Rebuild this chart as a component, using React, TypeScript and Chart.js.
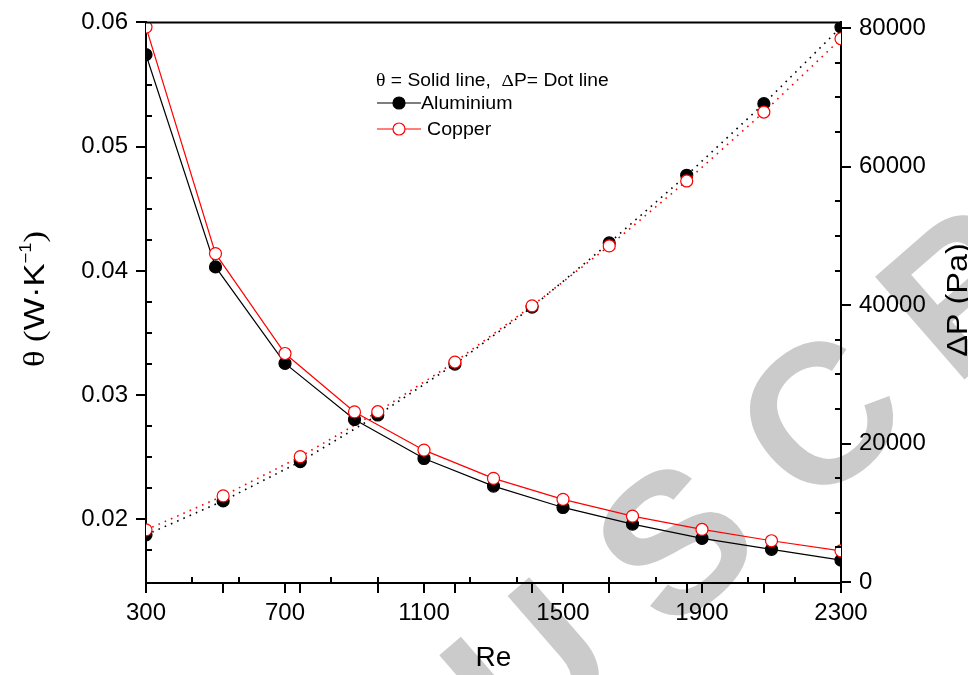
import React, { useEffect, useRef } from "react";
import { Chart, registerables } from "chart.js";

Chart.register(...registerables);

// ---- data ----
const RE_THETA = [300, 500, 700, 900, 1100, 1300, 1500, 1700, 1900, 2100, 2300];
const THETA_AL = [0.0574, 0.04032, 0.03255, 0.02804, 0.0249, 0.02268, 0.02096, 0.01962, 0.01847, 0.01759, 0.01672];
const THETA_CU = [0.05962, 0.04139, 0.03335, 0.02865, 0.02557, 0.0233, 0.02161, 0.02026, 0.01919, 0.01828, 0.01747];

const RE_DP = [300, 522, 744, 967, 1189, 1411, 1633, 1856, 2078, 2300];
const DP_AL = [6823, 11727, 17396, 24133, 31489, 39712, 48987, 58752, 69095, 80144];
const DP_CU = [7544, 12449, 18118, 24609, 31778, 39899, 48554, 57930, 67883, 78471];

const X_TICKS = [300, 700, 1100, 1500, 1900, 2300];
const THETA_TICKS = [0.02, 0.03, 0.04, 0.05, 0.06];
const DP_TICKS = [0, 20000, 40000, 60000, 80000];

const LEGEND_LABELS = ["Aluminium", "Copper"];
const WATERMARK = "MANUSCRIPT";

const SANS = '"Liberation Sans", Arial, Helvetica, sans-serif';
const SERIF = '"Liberation Serif", "Times New Roman", serif';

type Piece = { t: string; f: string; dy?: number };

// draws text pieces one after another; sx stretches the text horizontally
function drawPieces(ctx: CanvasRenderingContext2D, pieces: Piece[], x: number, y: number, center: boolean, sx = 1) {
  let total = 0;
  const widths = pieces.map((p) => {
    ctx.font = p.f;
    const w = ctx.measureText(p.t).width;
    total += w;
    return w;
  });
  ctx.save();
  ctx.translate(x, y);
  ctx.scale(sx, 1);
  let cx = center ? -total / 2 : 0;
  pieces.forEach((p, i) => {
    ctx.font = p.f;
    ctx.fillText(p.t, cx, p.dy || 0);
    cx += widths[i];
  });
  ctx.restore();
}

const decor = {
  id: "decor",
  beforeDraw(chart: any) {
    const ctx: CanvasRenderingContext2D = chart.ctx;
    ctx.save();
    ctx.fillStyle = "#cbcbcb";
    ctx.font = `bold 198px ${SANS}`;
    ctx.textAlign = "center";
    ctx.textBaseline = "middle";
    const ang = (-41 * Math.PI) / 180;
    const adv = 192;
    const ux = 538, uy = 678; // centre of the "U"
    const uIdx = WATERMARK.indexOf("U");
    for (let i = 0; i < WATERMARK.length; i++) {
      const d = (i - uIdx) * adv;
      ctx.save();
      ctx.translate(ux + d * Math.cos(ang), uy + d * Math.sin(ang));
      ctx.rotate(ang);
      ctx.fillText(WATERMARK[i], 0, 0);
      ctx.restore();
    }
    ctx.restore();
  },
  afterDraw(chart: any) {
    const ctx: CanvasRenderingContext2D = chart.ctx;
    const { left, right, top, bottom } = chart.chartArea;
    const sx = chart.scales.x, sy = chart.scales.y, sy2 = chart.scales.y2;
    ctx.save();
    ctx.strokeStyle = "#000";
    ctx.lineWidth = 2;
    ctx.beginPath();
    // top frame
    ctx.moveTo(left - 1, top);
    ctx.lineTo(right + 1, top);
    // left minor ticks (inward)
    for (let i = 0; i < 17; i++) {
      const v = 0.0175 + i * 0.0025;
      if (i % 4 === 1) continue; // majors
      const y = Math.round(sy.getPixelForValue(v));
      ctx.moveTo(left, y);
      ctx.lineTo(left + 6, y);
    }
    // right minor ticks (inward)
    for (let v = 5000; v < 80000; v += 5000) {
      if (v % 20000 === 0) continue;
      const y = Math.round(sy2.getPixelForValue(v));
      ctx.moveTo(right, y);
      ctx.lineTo(right - 6, y);
    }
    // bottom minor ticks (inward)
    for (let n = 1; n < 15; n++) {
      if (n % 3 === 0) continue;
      const x = Math.round(sx.getPixelForValue(300 + (n * 400) / 3));
      ctx.moveTo(x, bottom);
      ctx.lineTo(x, bottom - 6);
    }
    // bottom ticks of the second (ΔP) layer, outward
    RE_DP.forEach((r) => {
      const x = Math.round(sx.getPixelForValue(r));
      ctx.moveTo(x, bottom);
      ctx.lineTo(x, bottom + 10);
    });
    ctx.stroke();

    // axis titles
    ctx.fillStyle = "#000";
    ctx.textBaseline = "alphabetic";
    ctx.textAlign = "left";
    drawPieces(ctx, [{ t: "Re", f: `28px ${SANS}` }], (left + right) / 2, 666, true);

    ctx.save();
    ctx.translate(44, 299);
    ctx.rotate(-Math.PI / 2);
    drawPieces(
      ctx,
      [
        { t: "\u03b8 (", f: `30px ${SERIF}` },
        { t: "W\u00b7K", f: `30px ${SANS}` },
        { t: "\u22121", f: `16px ${SANS}`, dy: -13 },
        { t: ")", f: `30px ${SERIF}` },
      ],
      0,
      0,
      true,
      1.15
    );
    ctx.restore();

    ctx.save();
    ctx.translate(967, 300);
    ctx.rotate(-Math.PI / 2);
    drawPieces(ctx, [{ t: "\u0394P (Pa)", f: `29px ${SANS}` }], 0, 0, true, 1.12);
    ctx.restore();

    // legend
    drawPieces(
      ctx,
      [
        { t: "\u03b8", f: `18px ${SERIF}` },
        { t: " = Solid line,  ", f: `17.5px ${SANS}` },
        { t: "\u0394", f: `17.5px ${SERIF}` },
        { t: "P= Dot line", f: `17.5px ${SANS}` },
      ],
      376,
      86,
      false,
      1.1
    );
    const rows = [
      { y: 103, color: "#000", fill: "#000", tx: 421 },
      { y: 129, color: "#ff0000", fill: "#fff", tx: 427 },
    ];
    rows.forEach((r, i) => {
      ctx.strokeStyle = r.color;
      ctx.lineWidth = 1.2;
      ctx.beginPath();
      ctx.moveTo(377, r.y);
      ctx.lineTo(421, r.y);
      ctx.stroke();
      ctx.beginPath();
      ctx.arc(399, r.y, 6, 0, Math.PI * 2);
      ctx.fillStyle = r.fill;
      ctx.fill();
      ctx.stroke();
      ctx.fillStyle = "#000";
      drawPieces(ctx, [{ t: LEGEND_LABELS[i], f: `17.5px ${SANS}` }], r.tx, r.y + 6, false, 1.12);
    });
    ctx.restore();
  },
};

function lineSet(label: string, xs: number[], ys: number[], axis: string, color: string, fill: string, dotted: boolean, order: number) {
  return {
    label,
    data: xs.map((x, i) => ({ x, y: ys[i] })),
    yAxisID: axis,
    xAxisID: "x",
    borderColor: color,
    borderWidth: dotted ? 1.6 : 1.2,
    borderDash: dotted ? [1.6, 5.2] : [],
    borderCapStyle: "butt",
    pointRadius: 6,
    pointHoverRadius: 6,
    pointBackgroundColor: fill,
    pointBorderColor: color,
    pointBorderWidth: 1.2,
    tension: 0,
    fill: false,
    order,
  };
}

export default function App() {
  const ref = useRef<HTMLCanvasElement | null>(null);
  useEffect(() => {
    if (!ref.current) return;
    const tickFont = { family: SANS, size: 24 };
    const chart = new Chart(ref.current, {
      type: "line",
      data: {
        datasets: [
          lineSet("Copper \u03b8", RE_THETA, THETA_CU, "y", "#ff0000", "#ffffff", false, 1),
          lineSet("Aluminium \u03b8", RE_THETA, THETA_AL, "y", "#000000", "#000000", false, 2),
          lineSet("Copper \u0394P", RE_DP, DP_CU, "y2", "#ff0000", "#ffffff", true, 3),
          lineSet("Aluminium \u0394P", RE_DP, DP_AL, "y2", "#000000", "#000000", true, 4),
        ] as any,
      },
      options: {
        responsive: false,
        animation: false,
        devicePixelRatio: 1,
        layout: { padding: { top: 22, left: 0, right: 0, bottom: 0 } },
        plugins: {
          legend: { display: false },
          tooltip: { enabled: false },
          title: { display: false },
        },
        scales: {
          x: {
            type: "linear",
            position: "bottom",
            min: 300,
            max: 2300,
            afterBuildTicks: (s: any) => {
              s.ticks = X_TICKS.map((v) => ({ value: v }));
            },
            afterFit: (s: any) => {
              s.height = 92;
            },
            ticks: { font: tickFont, color: "#000", padding: 6, maxRotation: 0, autoSkip: false, callback: (v: any) => String(v) },
            grid: { drawOnChartArea: false, drawTicks: true, tickLength: 10, color: "#000", lineWidth: 2 },
            border: { display: true, color: "#000", width: 2 },
          },
          y: {
            type: "linear",
            position: "left",
            min: 0.01488,
            max: 0.06,
            afterBuildTicks: (s: any) => {
              s.ticks = THETA_TICKS.map((v) => ({ value: v }));
            },
            afterFit: (s: any) => {
              s.width = 146;
            },
            ticks: { font: tickFont, color: "#000", padding: 8, autoSkip: false, callback: (v: any) => Number(v).toFixed(2) },
            grid: { drawOnChartArea: false, drawTicks: true, tickLength: 10, color: "#000", lineWidth: 2 },
            border: { display: true, color: "#000", width: 2 },
          },
          y2: {
            type: "linear",
            position: "right",
            min: -130,
            max: 80830,
            afterBuildTicks: (s: any) => {
              s.ticks = DP_TICKS.map((v) => ({ value: v }));
            },
            afterFit: (s: any) => {
              s.width = 127;
            },
            ticks: { font: tickFont, color: "#000", padding: 8, autoSkip: false, callback: (v: any) => String(v) },
            grid: { drawOnChartArea: false, drawTicks: true, tickLength: 10, color: "#000", lineWidth: 2 },
            border: { display: true, color: "#000", width: 2 },
          },
        },
      } as any,
      plugins: [decor as any],
    });
    return () => chart.destroy();
  }, []);
  return (
    <div style={{ position: "fixed", left: 0, top: 0, width: 968, height: 675, background: "#fff" }}>
      <canvas ref={ref} width={968} height={675} style={{ display: "block" }} />
    </div>
  );
}
